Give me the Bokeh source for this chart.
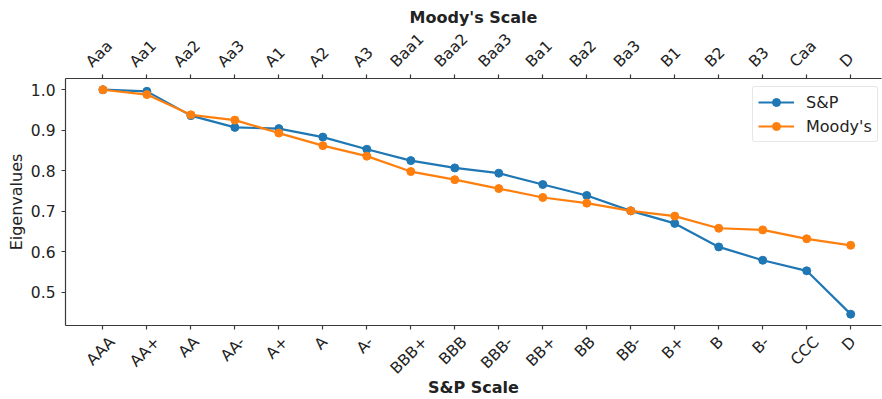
import math
from bokeh.plotting import figure
from bokeh.models import LinearAxis, FixedTicker, Range1d, Legend, LegendItem
from bokeh.embed import file_html
from bokeh.resources import INLINE

sp_labels = ["AAA", "AA+", "AA", "AA-", "A+", "A", "A-", "BBB+", "BBB", "BBB-",
             "BB+", "BB", "BB-", "B+", "B", "B-", "CCC", "D"]
moody_labels = ["Aaa", "Aa1", "Aa2", "Aa3", "A1", "A2", "A3", "Baa1", "Baa2", "Baa3",
                "Ba1", "Ba2", "Ba3", "B1", "B2", "B3", "Caa", "D"]
sp_values = [1.000, 0.996, 0.936, 0.907, 0.904, 0.883, 0.853, 0.825, 0.807, 0.794,
             0.766, 0.739, 0.701, 0.670, 0.612, 0.579, 0.553, 0.446]
moody_values = [1.000, 0.988, 0.938, 0.925, 0.893, 0.862, 0.836, 0.798, 0.778, 0.756,
                0.734, 0.720, 0.701, 0.688, 0.658, 0.654, 0.632, 0.616]
y_ticks = [0.5, 0.6, 0.7, 0.8, 0.9, 1.0]

idx = list(range(len(sp_labels)))
BLUE = "#1f77b4"
ORANGE = "#ff7f0e"
FONT = "DejaVu Sans"
TXT = "#222222"
AX = "#3a3a3a"
TICK_PX = 15.5
LAB_PX = 16

# approximate DejaVu Sans advance widths (em), used to centre rotated labels on ticks
CW = {"A": .684, "B": .686, "C": .698, "D": .770, "a": .613, "1": .636, "2": .636,
      "3": .636, "+": .838, "-": .361}
def text_w(s):
    return sum(CW.get(c, .65) for c in s) * TICK_PX

x0, x1 = -0.85, 17.7
y0, y1 = 0.418, 1.0277
W, H = 882, 399
ML, MR, MT, MB = 65, 1, 78, 74
px_per_unit = (W - ML - MR) / (x1 - x0)

p = figure(width=W, height=H, output_backend="svg", toolbar_location=None,
           x_range=Range1d(x0, x1), y_range=Range1d(y0, y1),
           min_border_left=ML, min_border_top=MT, min_border_bottom=MB,
           min_border_right=MR, x_axis_location="below")
p.outline_line_color = None
p.xgrid.visible = False
p.ygrid.visible = False
p.background_fill_color = "white"
p.border_fill_color = "white"

def style_axis(ax):
    ax.axis_line_color = AX
    ax.axis_line_width = 1.2
    ax.major_tick_line_color = AX
    ax.major_tick_line_width = 1.2
    ax.major_tick_out = 4
    ax.major_tick_in = 0
    ax.minor_tick_line_color = None
    ax.major_label_text_font = FONT
    ax.major_label_text_font_size = f"{TICK_PX}px"
    ax.major_label_text_color = TXT
    ax.axis_label_text_font = FONT
    ax.axis_label_text_color = TXT
    ax.axis_label_text_font_size = f"{LAB_PX}px"
    ax.axis_label_text_font_style = "normal"

def tick_axis(ax):
    style_axis(ax)
    ax.ticker = FixedTicker(ticks=idx)
    ax.major_label_overrides = {i: "" for i in idx}
    ax.major_label_text_font_size = "0px"
    ax.major_label_standoff = 0

def label_axis(labels, shift_fn, title, standoff, label_standoff):
    ax = LinearAxis()
    style_axis(ax)
    ax.axis_line_color = None
    ax.major_tick_line_color = None
    ax.major_tick_out = 0
    pos = [round(i + shift_fn(s) / px_per_unit, 6) for i, s in zip(idx, labels)]
    ax.ticker = FixedTicker(ticks=pos)
    ax.major_label_overrides = {q: s for q, s in zip(pos, labels)}
    ax.major_label_orientation = math.pi / 4
    ax.major_label_standoff = label_standoff
    ax.axis_label = title
    ax.axis_label_text_font_style = "bold"
    ax.axis_label_standoff = standoff
    return ax

k = math.sqrt(2) / 4

# bottom: tick marks on the frame, centred rotated S&P labels below
tick_axis(p.xaxis[0])
xb2 = label_axis(sp_labels, lambda s: -1.8 + k * text_w(s), "S&P Scale", -9, 10)
p.add_layout(xb2, "below")

# top: tick marks, centred rotated Moody's labels above
xt = LinearAxis()
tick_axis(xt)
p.add_layout(xt, "above")
xt2 = label_axis(moody_labels, lambda s: -(3.7 + k * text_w(s)), "Moody's Scale", -6, 10)
p.add_layout(xt2, "above")

# y axis
ya = p.yaxis[0]
style_axis(ya)
ya.ticker = FixedTicker(ticks=y_ticks)
ya.major_label_overrides = {t: f"{t:.1f}" for t in y_ticks}
ya.major_label_standoff = 6
ya.axis_label = "Eigenvalues"
ya.axis_label_standoff = 2

l1 = p.line(idx, sp_values, line_color=BLUE, line_width=2.2)
c1 = p.scatter(idx, sp_values, size=8, fill_color=BLUE, line_color=BLUE)
l2 = p.line(idx, moody_values, line_color=ORANGE, line_width=2.2)
c2 = p.scatter(idx, moody_values, size=8, fill_color=ORANGE, line_color=ORANGE)

legend = Legend(items=[LegendItem(label="S&P", renderers=[l1, c1]),
                       LegendItem(label="Moody's", renderers=[l2, c2])])
legend.label_text_font = FONT
legend.label_text_font_size = f"{LAB_PX}px"
legend.label_text_color = TXT
legend.border_line_color = "#d0d0d0"
legend.border_radius = 3
legend.background_fill_alpha = 0.8
legend.glyph_width = 36
legend.label_standoff = 12
legend.padding = 5
legend.spacing = 4
legend.margin = 0
legend.location = (687, 183)
p.add_layout(legend)

open("out.html", "w").write(file_html(p, INLINE))
